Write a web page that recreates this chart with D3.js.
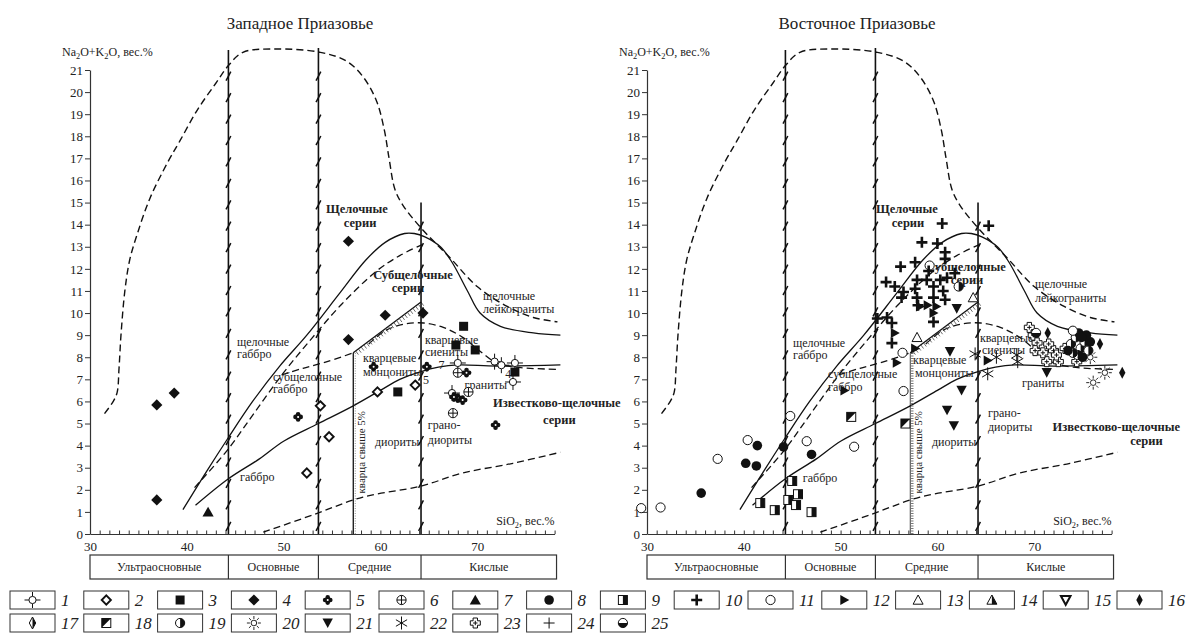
<!DOCTYPE html>
<html>
<head>
<meta charset="utf-8">
<script src="https://cdn.jsdelivr.net/npm/d3@7"></script>
<style>
  body { margin: 0; background: #fff; }
  svg text { font-family: "Liberation Serif", "Times New Roman", "DejaVu Serif", serif; fill: #222; }
</style>
</head>
<body>
<svg id="chart" width="1186" height="635"></svg>
<script>
// ---------------- data ----------------
const panelTitles = ["Западное Приазовье", "Восточное Приазовье"];
const yTickValues = d3.range(0, 22);
const xTickLabels = [30, 40, 50, 60, 70];
const xMinorTicks = d3.range(30, 79);
const rockGroups = ["Ультраосновные", "Основные", "Средние", "Кислые"];
const rockBounds = [30, 44.3, 53.6, 64.2, 78.2];
const legendCodes = d3.range(1, 26);

// classification boundaries: [SiO2, Na2O+K2O]
const envelopeCurve = [[31.5,5.45],[32.4,6.0],[32.8,6.4],[33.0,7.5],[33.2,9.0],[33.6,11.0],[34.1,12.4],[34.9,13.6],
  [36.2,15.2],[38.0,16.8],[39.3,17.8],[41.1,19.2],[43.0,20.4],[44.3,21.2],[45.8,21.8],[48.9,21.95],[53.8,21.8],
  [56.5,21.4],[58.2,20.7],[59.6,19.6],[60.4,18.3],[60.9,17.0],[61.5,15.6],[62.3,14.9],[64.1,13.9],[67.2,12.5],
  [70.0,11.2],[73.1,10.3],[75.8,9.8],[78.3,9.6]];
const alkalineCurve = [[39.6,1.1],[42.0,2.8],[44.2,4.3],[46.8,6.0],[49.6,7.6],[52.4,9.0],[55.8,10.9],[58.5,12.4],
  [60.5,13.2],[62.5,13.6],[63.5,13.6],[64.6,13.45],[66.2,13.0],[67.4,12.3],[69.0,11.0],[70.3,10.0],[72.4,9.4],
  [75.8,9.1],[78.6,9.0]];
const subalkalineDash = [[40.8,2.1],[44.2,3.8],[47.0,5.5],[50.0,7.3],[53.0,8.9],[56.0,10.4],[59.6,11.9],[62.0,12.6],[64.3,13.1]];
const calcAlkalineCurve = [[40.9,1.3],[44.3,2.5],[47.5,3.4],[50.0,4.2],[53.6,5.0],[57.2,5.8],[60.0,6.5],[62.0,7.0],
  [64.2,7.35],[66.0,7.55],[68.0,7.65],[72.0,7.6],[78.6,7.65]];
const gabbroDash = [[49.8,7.2],[52.0,7.5],[54.5,7.8],[57.2,8.2]];
const syeniteArch = [[58.8,8.6],[60.5,9.2],[62.5,9.5],[64.5,9.55],[66.5,9.35],[68.5,8.9],[70.5,8.2],[72.0,7.75],[74.0,7.55],[78.5,7.45]];
const lowerDash = [[47.9,0.08],[53.0,0.86],[58.2,1.67],[64.2,2.17],[68.5,2.76],[73.7,3.2],[78.6,3.7]];
const quartzComb = [[57.2,8.2],[64.2,10.5]];
const quartzLine = [[57.2,0],[57.2,8.2]];
const hatchedBounds = [[44.3,21.9],[53.6,22.0],[64.2,15.0]];

// samples: [legend code, SiO2, Na2O+K2O]
const westPoints = [
  [4,36.9,5.84],[4,38.7,6.38],[4,36.9,1.54],[7,42.2,1.0],
  [4,56.7,13.25],[4,56.7,8.8],[4,60.5,9.9],[4,64.4,10.0],
  [5,51.5,5.3],[2,53.8,5.8],[2,54.7,4.4],[2,52.4,2.76],
  [5,59.3,7.57],[2,59.7,6.43],[3,61.8,6.43],[2,63.6,6.74],[5,64.8,7.57],
  [3,68.6,9.4],[3,67.8,8.55],[3,69.8,8.33],[3,73.9,7.33],
  [1,68.0,7.74],[6,68.0,7.3],[5,68.9,7.3],
  [1,71.8,7.8],[1,72.5,7.64],[1,73.9,7.74],[1,73.7,6.88],[1,67.4,6.38],
  [6,69.1,6.43],[5,68.0,6.15],[5,68.5,6.06],[5,67.6,6.2],[6,67.5,5.47],[5,71.9,4.93]
];
const eastPoints = [
  [11,29.4,1.17],[11,31.4,1.2],[11,37.3,3.4],[11,40.4,4.25],[11,44.8,5.34],[11,46.5,4.2],[11,51.4,3.95],
  [11,56.5,6.47],[11,56.4,8.2],[11,59.2,12.15],
  [8,35.6,1.85],[8,40.2,3.2],[8,41.4,4.0],[8,41.3,3.08],[8,44.1,3.94],[8,47.0,3.6],
  [9,41.7,1.4],[9,43.2,1.08],[9,45.0,2.4],[9,44.6,1.54],[9,45.6,1.8],[9,45.4,1.31],[9,47.0,0.99],
  [18,51.1,5.3],[18,56.7,5.0],
  [10,60.5,14.05],[10,65.3,13.95],[10,58.4,13.2],[10,60.0,13.15],[10,60.8,12.75],[10,60.8,12.45],[10,57.7,12.3],
  [10,56.2,12.1],[10,59.1,11.9],[10,54.7,11.4],[10,55.6,11.2],[10,57.9,11.5],[10,58.9,11.5],[10,60.3,11.5],
  [10,61.0,11.6],[10,61.8,11.8],[10,56.5,10.95],[10,57.7,11.1],[10,59.6,11.2],[10,60.6,11.0],[10,57.9,10.7],
  [10,56.3,10.7],[10,59.6,10.7],[10,60.8,10.6],[10,53.8,9.75],[10,54.8,9.8],[10,55.3,9.55],[10,59.6,9.6],
  [10,58.0,10.35],[10,55.3,8.64],
  [12,50.4,6.5],[12,55.8,7.75],[12,57.7,8.4],[12,55.6,9.1],[12,58.2,10.3],[12,59.0,10.35],[12,59.9,10.3],
  [12,59.6,10.0],[12,65.2,7.85],
  [13,57.9,8.9],[13,63.7,10.7],
  [21,62.0,10.2],[21,61.3,8.25],[21,62.5,6.5],[21,61.0,5.6],[21,61.7,4.9],[21,71.3,7.3],
  [22,63.9,8.15],[22,65.2,7.25],[22,66.1,8.0],[22,68.2,8.1],[22,68.3,7.8],
  [23,69.5,9.35],[23,69.9,9.0],[23,70.3,8.65],[23,70.1,8.3],[23,72.0,8.3],[23,71.3,7.8],[23,72.5,7.8],
  [23,70.9,8.2],[23,74.4,7.8],[23,72.3,8.1],[23,73.2,8.4],[23,71.5,8.6],
  [25,70.2,9.1],[16,71.4,9.1],[16,76.8,8.6],[16,79.1,7.3],
  [20,75.8,8.0],[20,77.3,7.3],[20,76.1,6.85],
  [19,62.2,11.2],
  [19,73.8,8.6],[19,74.3,8.9],[19,74.8,8.4],[19,75.2,8.7],[19,74.5,8.1],[19,75.6,8.3],[19,74.0,8.2],
  [8,75.0,8.0],[8,75.8,8.7],[8,74.6,9.1],[8,73.5,8.3],[8,75.4,9.0],[8,74.9,8.9],
  [11,74.0,9.2]
];

// field names: [text, SiO2, Na2O+K2O, kind]
const westLabels = [
  ["Щелочные",57.58,14.52,"bm"],["серии",57.9,13.89,"bm"],
  ["Субщелочные",63.37,11.54,"bm"],["серии",62.85,10.95,"bm"],
  ["щелочные",70.6,10.59,"n"],["лейкограниты",70.6,10.0,"n"],
  ["щелочные",45.19,8.51,"n"],["габбро",45.19,7.96,"n"],
  ["субщелочные",48.9,6.92,"n"],["габбро",48.9,6.38,"n"],
  ["кварцевые",58.2,7.78,"n"],["монцониты",58.2,7.15,"n"],
  ["кварцевые",64.6,8.6,"n"],["сиениты",64.6,8.05,"n"],
  ["граниты",68.7,6.55,"n"],
  ["Известково-щелочные",71.63,5.75,"b"],["серии",76.8,4.98,"b"],
  ["грано-",64.9,4.75,"n"],["диориты",64.9,4.07,"n"],
  ["диориты",59.44,3.98,"n"],["габбро",45.5,2.4,"n"],
  ["5",64.4,6.79,"n"],["7",66.0,7.45,"n"],["4",72.9,7.05,"n"]
];
const eastLabels = [
  ["Щелочные",56.86,14.52,"bm"],["серии",56.96,13.89,"bm"],
  ["Субщелочные",62.95,11.9,"bm"],["серии",63.06,11.31,"bm"],
  ["щелочные",70.08,11.13,"n"],["лейкограниты",70.08,10.5,"n"],
  ["щелочные",45.08,8.46,"n"],["габбро",45.08,7.92,"n"],
  ["субщелочные",48.7,7.06,"n"],["габбро",48.7,6.47,"n"],
  ["кварцевые",57.48,7.69,"n"],["монцониты",57.69,7.1,"n"],
  ["кварцевые",64.4,8.69,"n"],["сиениты",64.6,8.14,"n"],
  ["граниты",68.74,6.65,"n"],
  ["грано-",65.23,5.29,"n"],["диориты",65.23,4.66,"n"],
  ["Известково-щелочные",71.9,4.66,"b"],["серии",81.6,4.03,"bm"],
  ["диориты",59.44,3.98,"n"],["габбро",46.1,2.35,"n"]
];

// ---------------- drawing ----------------
const svg = d3.select("#chart");
const INK = "#111";
const SERIF = "Liberation Serif, Times New Roman, DejaVu Serif, serif";
const y = d3.scaleLinear().domain([0, 21]).range([534, 70]);

function drawMarker(g, code) {
  const add = tag => g.append(tag);
  const r = 4.6;
  switch (code) {
    case 1:
      add("path").attr("d", "M-8,0H-3.6M3.6,0H8M0,-8V-3.6M0,3.6V8").attr("stroke", INK).attr("stroke-width", 1);
      add("circle").attr("r", 3.6).attr("fill", "#fff").attr("stroke", INK).attr("stroke-width", 1);
      break;
    case 2:
      add("path").attr("d", "M0,-4.6L4.6,0L0,4.6L-4.6,0Z").attr("fill", "#fff").attr("stroke", INK).attr("stroke-width", 1.9);
      break;
    case 3:
      add("rect").attr("x", -4.5).attr("y", -4.5).attr("width", 9).attr("height", 9).attr("fill", INK);
      break;
    case 4:
      add("path").attr("d", "M0,-5.6L5.6,0L0,5.6L-5.6,0Z").attr("fill", INK);
      break;
    case 5:
      [[0,-2.6],[2.6,0],[0,2.6],[-2.6,0]].forEach(([a, b]) =>
        add("circle").attr("cx", a).attr("cy", b).attr("r", 2.3).attr("fill", INK));
      add("circle").attr("r", 1).attr("fill", "#fff");
      break;
    case 6:
      add("circle").attr("r", r).attr("fill", "#fff").attr("stroke", INK).attr("stroke-width", 1);
      add("path").attr("d", `M${-r},0H${r}M0,${-r}V${r}`).attr("stroke", INK).attr("stroke-width", 1);
      break;
    case 7:
      add("path").attr("d", "M0,-5.2L5.6,4.6H-5.6Z").attr("fill", INK);
      break;
    case 8:
      add("circle").attr("r", 4.8).attr("fill", INK);
      break;
    case 9:
      add("rect").attr("x", -4.5).attr("y", -4.5).attr("width", 9).attr("height", 9).attr("fill", "#fff").attr("stroke", INK).attr("stroke-width", 1);
      add("rect").attr("x", 0).attr("y", -4.5).attr("width", 4.5).attr("height", 9).attr("fill", INK);
      break;
    case 10:
      add("path").attr("d", "M-5.5,0H5.5M0,-5.5V5.5").attr("stroke", INK).attr("stroke-width", 2.6);
      break;
    case 11:
      add("circle").attr("r", r).attr("fill", "#fff").attr("stroke", INK).attr("stroke-width", 1);
      break;
    case 12:
      add("path").attr("d", "M-4,-5L5,0L-4,5Z").attr("fill", INK);
      break;
    case 13:
      add("path").attr("d", "M0,-5L5,4.2H-5Z").attr("fill", "#fff").attr("stroke", INK).attr("stroke-width", 1);
      break;
    case 14:
      add("path").attr("d", "M0,-5L5,4.2H-5Z").attr("fill", "#fff").attr("stroke", INK).attr("stroke-width", 1);
      add("path").attr("d", "M0,-5L5,4.2H0Z").attr("fill", INK);
      break;
    case 15:
      add("path").attr("d", "M-4.8,-4H4.8L0,4.8Z").attr("fill", "#fff").attr("stroke", INK).attr("stroke-width", 2);
      break;
    case 16:
      add("path").attr("d", "M0,-6L3.2,0L0,6L-3.2,0Z").attr("fill", INK);
      break;
    case 17:
      add("path").attr("d", "M0,-6L3.2,0L0,6L-3.2,0Z").attr("fill", "#fff").attr("stroke", INK).attr("stroke-width", 1);
      add("path").attr("d", "M0,-6L3.2,0L0,6Z").attr("fill", INK);
      break;
    case 18:
      add("rect").attr("x", -4.5).attr("y", -4.5).attr("width", 9).attr("height", 9).attr("fill", "#fff").attr("stroke", INK).attr("stroke-width", 1);
      add("path").attr("d", "M-4.5,-4.5H4.5L-4.5,4.5Z").attr("fill", INK);
      break;
    case 19:
      add("circle").attr("r", r).attr("fill", "#fff").attr("stroke", INK).attr("stroke-width", 1);
      add("path").attr("d", `M0,${-r}A${r},${r} 0 0 1 0,${r}Z`).attr("fill", INK);
      break;
    case 20: {
      add("circle").attr("r", 2.8).attr("fill", "#fff").attr("stroke", INK).attr("stroke-width", 0.9);
      let d = "";
      for (let i = 0; i < 8; i++) {
        const a = i * Math.PI / 4;
        d += `M${(4 * Math.cos(a)).toFixed(2)},${(4 * Math.sin(a)).toFixed(2)}L${(7 * Math.cos(a)).toFixed(2)},${(7 * Math.sin(a)).toFixed(2)}`;
      }
      add("path").attr("d", d).attr("stroke", INK).attr("stroke-width", 0.9);
      break;
    }
    case 21:
      add("path").attr("d", "M-5.2,-4.6H5.2L0,5Z").attr("fill", INK);
      break;
    case 22:
      add("path").attr("d", "M0,-6.5V6.5M-5.6,-3.3L5.6,3.3M-5.6,3.3L5.6,-3.3").attr("stroke", INK).attr("stroke-width", 1);
      break;
    case 23:
      add("path").attr("d", "M-2.2,-5H2.2V-2.2H5V2.2H2.2V5H-2.2V2.2H-5V-2.2H-2.2Z").attr("fill", "#fff").attr("stroke", INK).attr("stroke-width", 1);
      add("path").attr("d", "M-2.2,0H2.2M0,-2.2V2.2").attr("stroke", INK).attr("stroke-width", 1);
      break;
    case 24:
      add("path").attr("d", "M-5.5,0H5.5M0,-5.5V5.5").attr("stroke", INK).attr("stroke-width", 1);
      break;
    case 25:
      add("circle").attr("r", r).attr("fill", "#fff").attr("stroke", INK).attr("stroke-width", 1);
      add("path").attr("d", `M${-r},0A${r},${r} 0 0 0 ${r},0Z`).attr("fill", INK);
      break;
  }
}

function subscriptText(g, x, yy, parts, size) {
  const t = g.append("text").attr("x", x).attr("y", yy).attr("font-size", size).attr("font-family", SERIF);
  parts.forEach(([s, sub], i) => {
    if (sub) t.append("tspan").attr("font-size", size * 0.7).attr("dy", 3).text(s);
    else t.append("tspan").attr("dy", i ? -3 : 0).text(s);
  });
  return t;
}

const panels = [
  { title: panelTitles[0], x0: 90, points: westPoints, labels: westLabels, dottedQuartz: false },
  { title: panelTitles[1], x0: 647, points: eastPoints, labels: eastLabels, dottedQuartz: true }
];

panels.forEach(p => {
  const x = d3.scaleLinear().domain([30, 78]).range([p.x0, p.x0 + 464.6]);
  const g = svg.append("g");
  const line = d3.line().x(d => x(d[0])).y(d => y(d[1])).curve(d3.curveCatmullRom.alpha(0.5));

  // title
  g.append("text").attr("x", p.x0 + 210).attr("y", 29).attr("text-anchor", "middle")
    .attr("font-family", SERIF).attr("font-size", 17).text(p.title);

  // axes
  const yAxis = g.append("g").attr("transform", `translate(${p.x0},0)`)
    .call(d3.axisLeft(y).tickValues(yTickValues).tickSize(5).tickSizeOuter(0).tickPadding(2));
  const xMinor = g.append("g").attr("transform", `translate(0,${y(0)})`)
    .call(d3.axisTop(x).tickValues(xMinorTicks).tickSize(3.5).tickSizeOuter(0).tickFormat(""));
  const xMajor = g.append("g").attr("transform", `translate(0,${y(0)})`)
    .call(d3.axisBottom(x).tickValues(xTickLabels).tickSize(0).tickPadding(8));
  xMajor.select(".domain").remove();
  [yAxis, xMinor, xMajor].forEach(a => {
    a.attr("font-family", SERIF);
    a.selectAll("path.domain").attr("stroke", "#333").attr("stroke-width", 1.2);
    a.selectAll(".tick line").attr("stroke", "#333").attr("stroke-width", 1);
    a.selectAll(".tick text").attr("font-size", 13).attr("fill", "#333").attr("font-family", SERIF);
  });

  subscriptText(g, p.x0 - 28, 56, [["Na"], ["2", 1], ["O+K"], ["2", 1], ["O, вес.%"]], 12);
  const sx = subscriptText(g, x(78), 525, [["SiO"], ["2", 1], [", вес.%"]], 12);
  sx.attr("text-anchor", "end");

  // boundary lines
  const dashed = (data, w) => g.append("path").attr("d", line(data)).attr("fill", "none")
    .attr("stroke", INK).attr("stroke-width", w || 1.3).attr("stroke-dasharray", "7,4");
  const solid = (data, w) => g.append("path").attr("d", line(data)).attr("fill", "none")
    .attr("stroke", INK).attr("stroke-width", w || 1.3);
  dashed(envelopeCurve, 1.4);
  solid(alkalineCurve);
  dashed(subalkalineDash);
  solid(calcAlkalineCurve);
  dashed(gabbroDash);
  dashed(syeniteArch);
  dashed(lowerDash);

  // quartz > 5% boundary
  const qx = x(quartzLine[0][0]);
  g.append("line").attr("x1", qx).attr("x2", qx).attr("y1", y(quartzLine[0][1])).attr("y2", y(quartzLine[1][1]))
    .attr("stroke", INK).attr("stroke-width", p.dottedQuartz ? 0.8 : 1.3);
  g.append("line").attr("x1", qx + 2).attr("x2", qx + 2).attr("y1", y(0)).attr("y2", y(quartzLine[1][1]))
    .attr("stroke", "#777").attr("stroke-width", p.dottedQuartz ? 2.5 : 0.8).attr("stroke-dasharray", "1,1.5");
  g.append("text").attr("font-size", 11).attr("font-family", SERIF)
    .attr("transform", `translate(${qx + 12},${y(3.7)}) rotate(-90)`)
    .attr("text-anchor", "middle").text("кварца свыше 5%");

  // toothed quartz-syenite boundary
  const a = [x(quartzComb[0][0]), y(quartzComb[0][1])], b = [x(quartzComb[1][0]), y(quartzComb[1][1])];
  g.append("line").attr("x1", a[0]).attr("y1", a[1]).attr("x2", b[0]).attr("y2", b[1])
    .attr("stroke", INK).attr("stroke-width", 1.3);
  const len = Math.hypot(b[0] - a[0], b[1] - a[1]);
  const ux = (b[0] - a[0]) / len, uy = (b[1] - a[1]) / len;
  const nx = -uy, ny = ux; // normal pointing below the line
  let teeth = "";
  for (let s = 3; s < len; s += 3.4) {
    const px = a[0] + ux * s, py = a[1] + uy * s;
    teeth += `M${px.toFixed(1)},${py.toFixed(1)}l${(nx * 4.5).toFixed(2)},${(ny * 4.5).toFixed(2)}`;
  }
  g.append("path").attr("d", teeth).attr("stroke", "#444").attr("stroke-width", 0.8);

  // hatched vertical class boundaries
  hatchedBounds.forEach(([si, top]) => {
    const hx = x(si);
    g.append("line").attr("x1", hx).attr("x2", hx).attr("y1", y(0)).attr("y2", y(top))
      .attr("stroke", INK).attr("stroke-width", 1.6);
    let d = "";
    for (let v = 0.35; v < top - 0.5; v += 0.97) {
      const hy = y(v);
      d += `M${(hx - 2.4).toFixed(1)},${(hy + 4.5).toFixed(1)}Q${(hx - 0.3).toFixed(1)},${(hy + 1).toFixed(1)} ${(hx + 2.4).toFixed(1)},${(hy - 4.5).toFixed(1)}`;
    }
    g.append("path").attr("d", d).attr("fill", "none").attr("stroke", INK).attr("stroke-width", 1.5);
  });

  // field names
  p.labels.forEach(([t, si, v, kind]) => {
    const bold = kind[0] === "b";
    g.append("text").attr("x", x(si)).attr("y", y(v)).attr("font-family", SERIF)
      .attr("font-size", bold ? 12.5 : 12)
      .attr("font-weight", bold ? "bold" : "normal")
      .attr("text-anchor", kind === "bm" ? "middle" : "start")
      .attr("fill", bold ? "#111" : "#333")
      .text(t);
  });

  // samples
  p.points.forEach(([code, si, v]) => {
    drawMarker(g.append("g").attr("transform", `translate(${x(si)},${y(v)})`), code);
  });

  // rock-group bar under the axis
  const bar = g.append("g");
  bar.append("rect").attr("x", x(rockBounds[0])).attr("y", 555)
    .attr("width", x(rockBounds[4]) - x(rockBounds[0])).attr("height", 24)
    .attr("fill", "none").attr("stroke", "#333").attr("stroke-width", 1.2);
  rockGroups.forEach((name, i) => {
    if (i > 0) bar.append("line").attr("x1", x(rockBounds[i])).attr("x2", x(rockBounds[i]))
      .attr("y1", 555).attr("y2", 579).attr("stroke", "#333").attr("stroke-width", 1.2);
    bar.append("text").attr("x", (x(rockBounds[i]) + x(rockBounds[i + 1])) / 2).attr("y", 571)
      .attr("font-family", SERIF).attr("text-anchor", "middle").attr("font-size", 12).attr("fill", "#333").text(name);
  });
});

// legend
const legend = svg.append("g");
legendCodes.forEach((code, i) => {
  const row = i < 16 ? 0 : 1;
  const col = row ? i - 16 : i;
  const bx = 10 + col * 73.8, by = row ? 614 : 591;
  legend.append("rect").attr("x", bx).attr("y", by).attr("width", 45).attr("height", 18)
    .attr("fill", "#fff").attr("stroke", "#333").attr("stroke-width", 1);
  drawMarker(legend.append("g").attr("transform", `translate(${bx + 22.5},${by + 9})`), code);
  legend.append("text").attr("x", bx + 51).attr("y", by + 15).attr("font-size", 17).attr("font-family", SERIF)
    .attr("font-style", "italic").attr("fill", "#222").text(code);
});
</script>
</body>
</html>
